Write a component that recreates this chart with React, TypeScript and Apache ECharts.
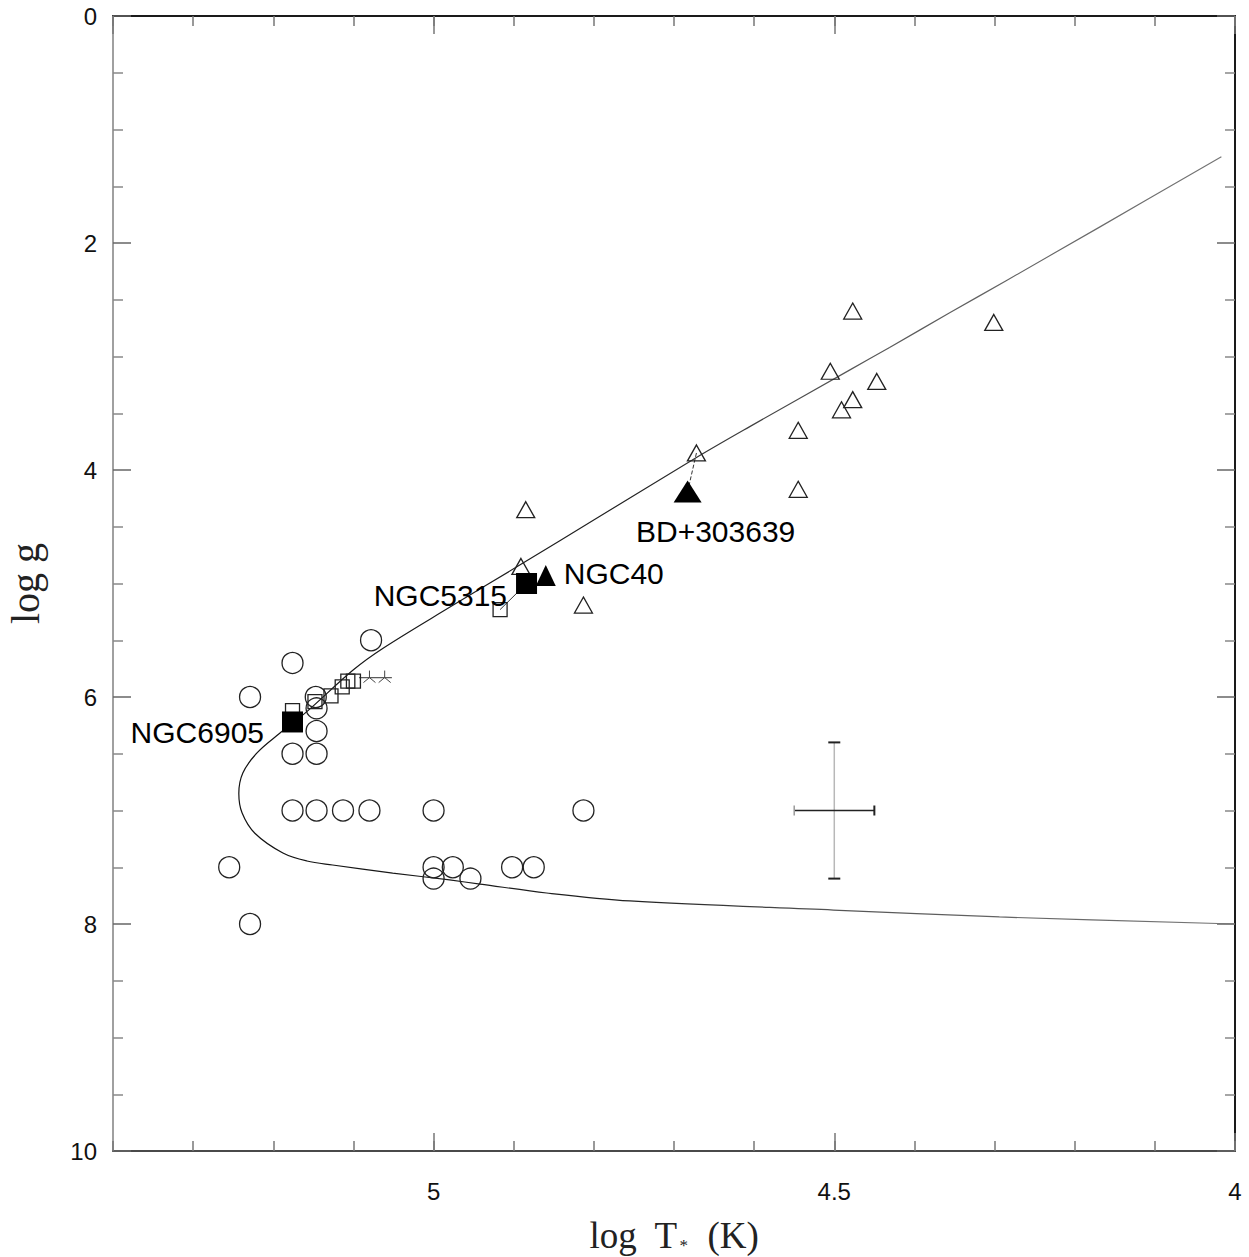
import React, { useEffect, useRef } from "react";
import * as echarts from "echarts";

// Axis ranges: log T* runs right-to-left, log g runs top-to-bottom
const X_MIN = 4;
const X_MAX = 5.4;
const Y_MIN = 0;
const Y_MAX = 10;

// Evolutionary track (log T*, log g), traced from the cool end to the white-dwarf cooling branch
const trackPoints: [number, number][] = [
  [4.017, 1.24], [4.169, 1.86], [4.285, 2.33], [4.356, 2.615], [4.431, 2.92],
  [4.481, 3.12], [4.606, 3.62], [4.672, 3.89], [4.793, 4.41], [4.893, 4.84],
  [4.98, 5.21], [5.063, 5.57], [5.1, 5.76], [5.16, 6.14], [5.192, 6.32],
  [5.22, 6.49], [5.238, 6.67], [5.243, 6.85], [5.239, 7.02], [5.223, 7.2],
  [5.188, 7.374], [5.158, 7.445], [5.126, 7.48], [5.051, 7.551], [4.98, 7.612],
  [4.942, 7.648], [4.859, 7.727], [4.755, 7.797], [4.501, 7.877], [4.294, 7.938],
  [4.0, 8.0],
];

// Open circles
const openCircles: [number, number][] = [
  [5.078, 5.5], [5.176, 5.7], [5.229, 6.0], [5.147, 6.0], [5.146, 6.1],
  [5.146, 6.3], [5.176, 6.5], [5.146, 6.5], [5.176, 7.0], [5.146, 7.0],
  [5.113, 7.0], [5.08, 7.0], [5.0, 7.0], [4.813, 7.0], [5.255, 7.5],
  [5.229, 8.0], [5.0, 7.5], [5.0, 7.6], [4.976, 7.5], [4.954, 7.6],
  [4.902, 7.5], [4.875, 7.5],
];

// Open triangles
const openTriangles: [number, number][] = [
  [4.477, 2.6], [4.301, 2.7], [4.505, 3.13], [4.447, 3.22], [4.477, 3.38],
  [4.491, 3.47], [4.545, 3.65], [4.545, 4.17], [4.672, 3.85], [4.885, 4.35],
  [4.891, 4.85], [4.813, 5.19],
];

// Open squares
const openSquares: [number, number][] = [
  [4.917, 5.23], [5.176, 6.12], [5.148, 6.04], [5.128, 5.99], [5.114, 5.91],
  [5.107, 5.86], [5.1, 5.86],
];

// Three-pointed star markers
const triStars: [number, number][] = [
  [5.08, 5.82], [5.061, 5.82],
];

// Named objects
const squareNames = ["NGC6905", "NGC5315"];
const squareValues: [number, number][] = [[5.176, 6.22], [4.884, 5.0]];
const triangleNames = ["NGC40", "BD+303639"];
const triangleValues: [number, number][] = [[4.86, 4.93], [4.683, 4.19]];

// Segments joining related determinations
const tieSegments: { pts: [number, number][]; dashed: boolean }[] = [
  { pts: [[4.917, 5.23], [4.884, 5.0]], dashed: false },
  { pts: [[4.672, 3.85], [4.683, 4.19]], dashed: true },
  { pts: [[5.093, 5.83], [5.052, 5.83]], dashed: false },
];

// Typical uncertainty: [log T, log g, ±log T, ±log g]
const errorBar: [number, number, number, number][] = [[4.5, 7.0, 0.05, 0.6]];

const SANS = "Liberation Sans";
const SERIF = "Liberation Serif";

const hollow = {
  color: "rgba(0,0,0,0)",
  borderColor: "#222",
  borderWidth: 1.3,
  opacity: 1,
};

const labelBase = {
  show: true,
  fontFamily: SANS,
  fontSize: 30,
  color: "#000",
};

const squareLabels = [
  { position: "left", distance: 18, offset: [0, 11] },
  { position: "left", distance: 9, offset: [0, 12] },
];
const triangleLabels = [
  { position: "right", distance: 8, offset: [0, -2] },
  { position: "bottom", distance: 14, offset: [28, 0] },
];

function xAxisDef(position: "top" | "bottom", major: boolean, lineColor: string) {
  return {
    type: "value",
    position,
    inverse: true,
    min: X_MIN,
    max: X_MAX,
    interval: major ? 0.5 : 0.1,
    axisLine: {
      show: major,
      onZero: false,
      lineStyle: { color: lineColor, width: 2 },
    },
    axisTick: {
      show: true,
      inside: true,
      length: major ? 18 : 10,
      lineStyle: { color: "#777", width: 1.5 },
    },
    axisLabel: {
      show: major && position === "bottom",
      showMaxLabel: false,
      margin: 28,
      fontFamily: SANS,
      fontSize: 24,
      color: "#111",
    },
    splitLine: { show: false },
  };
}

function yAxisDef(position: "left" | "right", lineColor: string) {
  return {
    type: "value",
    position,
    inverse: true,
    min: Y_MIN,
    max: Y_MAX,
    interval: 2,
    axisLine: {
      show: true,
      onZero: false,
      lineStyle: { color: lineColor, width: 2 },
    },
    axisTick: {
      show: true,
      inside: true,
      length: 18,
      lineStyle: { color: "#666", width: 1.5 },
    },
    minorTick: {
      show: true,
      splitNumber: 4,
      length: 10,
      lineStyle: { color: "#888", width: 1.5 },
    },
    axisLabel: {
      show: position === "left",
      margin: 16,
      fontFamily: SANS,
      fontSize: 24,
      color: "#111",
    },
    splitLine: { show: false },
  };
}

export default function App() {
  const ref = useRef<HTMLDivElement>(null);

  useEffect(() => {
    if (!ref.current) return;
    const chart = echarts.init(ref.current, null, { renderer: "svg" });

    const bottomMajor: any = xAxisDef("bottom", true, "#4a4a4a");
    bottomMajor.name = "{a|log  T}{s|*}{a|  (K)}";
    bottomMajor.nameLocation = "middle";
    bottomMajor.nameGap = 66;
    bottomMajor.nameTextStyle = {
      rich: {
        a: { fontFamily: SERIF, fontSize: 37, color: "#222" },
        s: { fontFamily: SERIF, fontSize: 17, color: "#222", verticalAlign: "bottom", padding: [0, 1, 0, 2] },
      },
    };

    const leftAxis: any = yAxisDef("left", "#a0a0a0");
    leftAxis.name = "log g";
    leftAxis.nameLocation = "middle";
    leftAxis.nameRotate = 90;
    leftAxis.nameGap = 68;
    leftAxis.nameTextStyle = { fontFamily: SERIF, fontSize: 40, color: "#222" };

    // Track drawn dark at the hot end, fading to grey towards the cool end
    const trackColor = new echarts.graphic.LinearGradient(0, 0, 1, 0, [
      { offset: 0, color: "#111" },
      { offset: 0.4, color: "#222" },
      { offset: 0.6, color: "#555" },
      { offset: 1, color: "#777" },
    ]);

    const series: any[] = [
      {
        type: "line",
        data: trackPoints,
        smooth: 0.35,
        symbol: "none",
        lineStyle: { color: trackColor, width: 1.2 },
        z: 1,
      },
      ...tieSegments.map((seg) => ({
        type: "line",
        data: seg.pts,
        symbol: "none",
        lineStyle: { color: "#333", width: 1, type: seg.dashed ? "dashed" : "solid" },
        z: 1,
      })),
      {
        type: "scatter",
        data: openCircles,
        symbol: "circle",
        symbolSize: 21,
        itemStyle: hollow,
        z: 2,
      },
      {
        type: "scatter",
        data: openTriangles,
        symbol: "triangle",
        symbolSize: [18, 16],
        itemStyle: hollow,
        z: 2,
      },
      {
        type: "scatter",
        data: openSquares,
        symbol: "rect",
        symbolSize: 14,
        itemStyle: hollow,
        z: 2,
      },
      {
        type: "scatter",
        data: triStars,
        symbol: "path://M6,0 L6,7 M6,7 L0,12 M6,7 L12,12",
        symbolSize: [12, 12],
        itemStyle: { color: "rgba(0,0,0,0)", borderColor: "#444", borderWidth: 1, opacity: 1 },
        z: 2,
      },
      {
        type: "scatter",
        data: squareValues.map((v, i) => ({
          value: v,
          label: { ...labelBase, ...squareLabels[i], formatter: squareNames[i] },
        })),
        symbol: "rect",
        symbolSize: 21,
        itemStyle: { color: "#000", opacity: 1 },
        z: 3,
      },
      {
        type: "scatter",
        data: triangleValues.map((v, i) => ({
          value: v,
          symbolSize: i === 1 ? [28, 22] : [20, 21],
          label: { ...labelBase, ...triangleLabels[i], formatter: triangleNames[i] },
        })),
        symbol: "triangle",
        itemStyle: { color: "#000", opacity: 1 },
        z: 3,
      },
      {
        type: "custom",
        data: errorBar,
        encode: { x: 0, y: 1 },
        z: 2,
        renderItem: (_params: any, api: any) => {
          const x = api.value(0);
          const y = api.value(1);
          const dx = api.value(2);
          const dy = api.value(3);
          const hiT = api.coord([x + dx, y]);
          const loT = api.coord([x - dx, y]);
          const top = api.coord([x, y - dy]);
          const bot = api.coord([x, y + dy]);
          const capH = 5;
          const capV = 6;
          return {
            type: "group",
            children: [
              { type: "line", shape: { x1: top[0], y1: top[1], x2: bot[0], y2: bot[1] }, style: { stroke: "#b8b8b8", lineWidth: 1.5 } },
              { type: "line", shape: { x1: top[0] - capV, y1: top[1], x2: top[0] + capV, y2: top[1] }, style: { stroke: "#222", lineWidth: 2 } },
              { type: "line", shape: { x1: bot[0] - capV, y1: bot[1], x2: bot[0] + capV, y2: bot[1] }, style: { stroke: "#222", lineWidth: 2 } },
              { type: "line", shape: { x1: hiT[0], y1: hiT[1], x2: loT[0], y2: loT[1] }, style: { stroke: "#222", lineWidth: 1.5 } },
              { type: "line", shape: { x1: hiT[0], y1: hiT[1] - capH, x2: hiT[0], y2: hiT[1] + capH }, style: { stroke: "#999", lineWidth: 1.5 } },
              { type: "line", shape: { x1: loT[0], y1: loT[1] - capH, x2: loT[0], y2: loT[1] + capH }, style: { stroke: "#222", lineWidth: 2 } },
            ],
          };
        },
      },
    ];

    chart.setOption({
      animation: false,
      backgroundColor: "#fff",
      grid: { left: 113, top: 16, width: 1122, height: 1135, containLabel: false, outerBoundsMode: "none" },
      xAxis: [
        bottomMajor,
        xAxisDef("bottom", false, "#4a4a4a"),
        xAxisDef("top", true, "#1a1a1a"),
        xAxisDef("top", false, "#1a1a1a"),
      ],
      yAxis: [leftAxis, yAxisDef("right", "#1a1a1a")],
      series,
    });

    return () => chart.dispose();
  }, []);

  return (
    <div
      ref={ref}
      style={{ position: "absolute", left: 0, top: 0, width: 1249, height: 1257, background: "#fff" }}
    />
  );
}
